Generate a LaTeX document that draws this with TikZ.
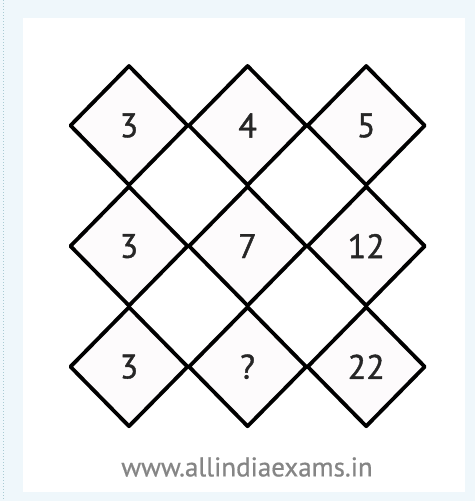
\documentclass[tikz,border=0pt]{standalone}
\usepackage{fontspec}
\setmainfont{PT Sans}
\newfontfamily\numfont[FakeBold=1.2]{PT Sans}
\newfontfamily\wmfont[FakeBold=0.6]{PT Sans}
\usetikzlibrary{shapes.geometric}
\definecolor{bgblue}{HTML}{EFF7FB}
\definecolor{dotblue}{HTML}{A9CBD3}
\definecolor{dfill}{HTML}{FDFBFC}
\definecolor{wmgray}{HTML}{858585}
\tikzset{
  cell/.style={diamond, draw=black, fill=dfill, line width=3.8pt, line join=round,
    minimum width=118.6pt, minimum height=120.6pt, inner sep=0pt, aspect=1,
    font=\numfont\fontsize{34}{34}\selectfont, text=black!85},
}
\begin{document}
\begin{tikzpicture}[x=1pt,y=-1pt]
\useasboundingbox (0,0) rectangle (475,501);
\fill[bgblue] (0,0) rectangle (475,501);
\draw[dotblue, line width=1pt, dotted] (3,0) -- (3,501);
\fill[white] (23,18) rectangle (465,492);
\node[cell] (a1) at (129,125.5) {3};
\node[cell] (a2) at (247.6,125.5) {4};
\node[cell] (a3) at (366.2,125.5) {5};
\node[cell] (b1) at (129,246.1) {3};
\node[cell] (b2) at (247.6,246.1) {7};
\node[cell] (b3) at (366.2,246.1) {12};
\node[cell] (c1) at (129,366.7) {3};
\node[cell] (c2) at (247.6,366.7) {?};
\node[cell] (c3) at (366.2,366.7) {22};
\node[text=wmgray, font=\wmfont\fontsize{27}{27}\selectfont] (wm) at (247,467) {www.allindiaexams.in};
\end{tikzpicture}
\end{document}
